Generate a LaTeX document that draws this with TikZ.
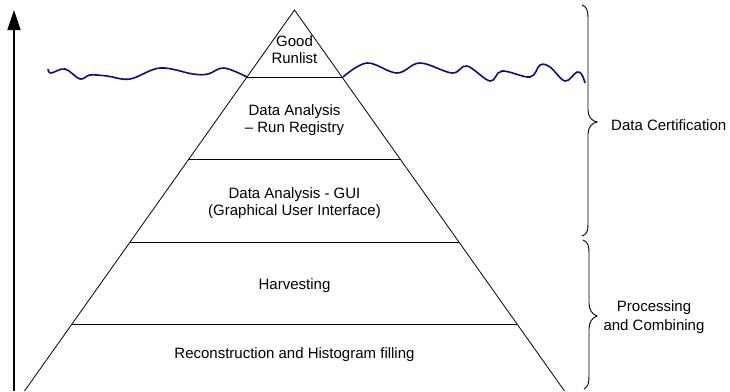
\documentclass[tikz,border=0pt]{standalone}
\usepackage{fontspec}
\setmainfont{Liberation Sans}
\usetikzlibrary{arrows.meta,calc}
\definecolor{wave}{RGB}{10,10,140}
\begin{document}
\begin{tikzpicture}[x=1pt,y=-1pt,
  edge/.style={draw=black,line width=0.8pt},
  lbl/.style={align=center,inner sep=0pt,font=\fontsize{15}{17}\selectfont},
  bracket/.style={draw=black,line width=0.9pt}]
\useasboundingbox (0,0) rectangle (730,391);

% pyramid outline
\coordinate (A) at (294.5,10);
\coordinate (BL) at (24.5,391);
\coordinate (BR) at (564.5,391);
\draw[edge] (BL) -- (A) -- (BR);
% level separators
\foreach \t/\n in {0.1759/1,0.3911/2,0.6089/3,0.8241/4}{
  \coordinate (L\n) at ($(A)!\t!(BL)$);
  \coordinate (R\n) at ($(A)!\t!(BR)$);
  \draw[edge] (L\n) -- (R\n);
}

% level labels
\node[lbl] (good) at (294.5,50) {Good\\Runlist};
\node[lbl] (rr) at (294.5,120) {Data Analysis\\– Run Registry};
\node[lbl] (gui) at (294.5,203.5) {Data Analysis - GUI\\(Graphical User Interface)};
\node[lbl] (harv) at (294.5,286) {Harvesting};
\node[lbl] (reco) at (294.5,355) {Reconstruction and Histogram filling};

% vertical axis arrow
\coordinate (axb) at (14,391);
\coordinate (axt) at (14,10);
\draw[line width=1.6pt,-{Triangle[length=20pt,width=13pt]}] (axb) -- (axt);

% wavy water line
\draw[wave,line width=1.6pt,line join=round] plot[smooth,tension=0.6] coordinates {
  (48,69) (51,73) (65,69) (80,79) (90,75) (107,76) (130,79) (160,68)
  (193,74) (208,74) (224,68) (247,77)};
\draw[wave,line width=1.6pt,line join=round] plot[smooth,tension=0.6] coordinates {
  (343,77) (367,63) (397,73) (420,63) (452,73) (467,66) (490,81) (502,71)
  (530,77) (540,65) (550,67) (565,81) (577,72) (582,75) (585,83)};

% braces
\draw[bracket] (582,5) .. controls (587,7) and (588,11) .. (588,18) -- (588,110)
  .. controls (588,117) and (592,121) .. (597,122)
  .. controls (592,123) and (588,127) .. (588,134) -- (588,224)
  .. controls (588,231) and (587,234) .. (582,236);
\draw[bracket] (583,240) .. controls (588,242) and (589,246) .. (589,253) -- (589,303)
  .. controls (589,310) and (592,314) .. (597,316)
  .. controls (592,318) and (589,322) .. (589,329) -- (589,376)
  .. controls (589,383) and (588,387) .. (584,389);

\node[lbl,anchor=west] (cert) at (611,125) {Data Certification};
\node[lbl,font=\fontsize{15}{19}\selectfont] (proc) at (654,317) {Processing\\and Combining};
\end{tikzpicture}
\end{document}
